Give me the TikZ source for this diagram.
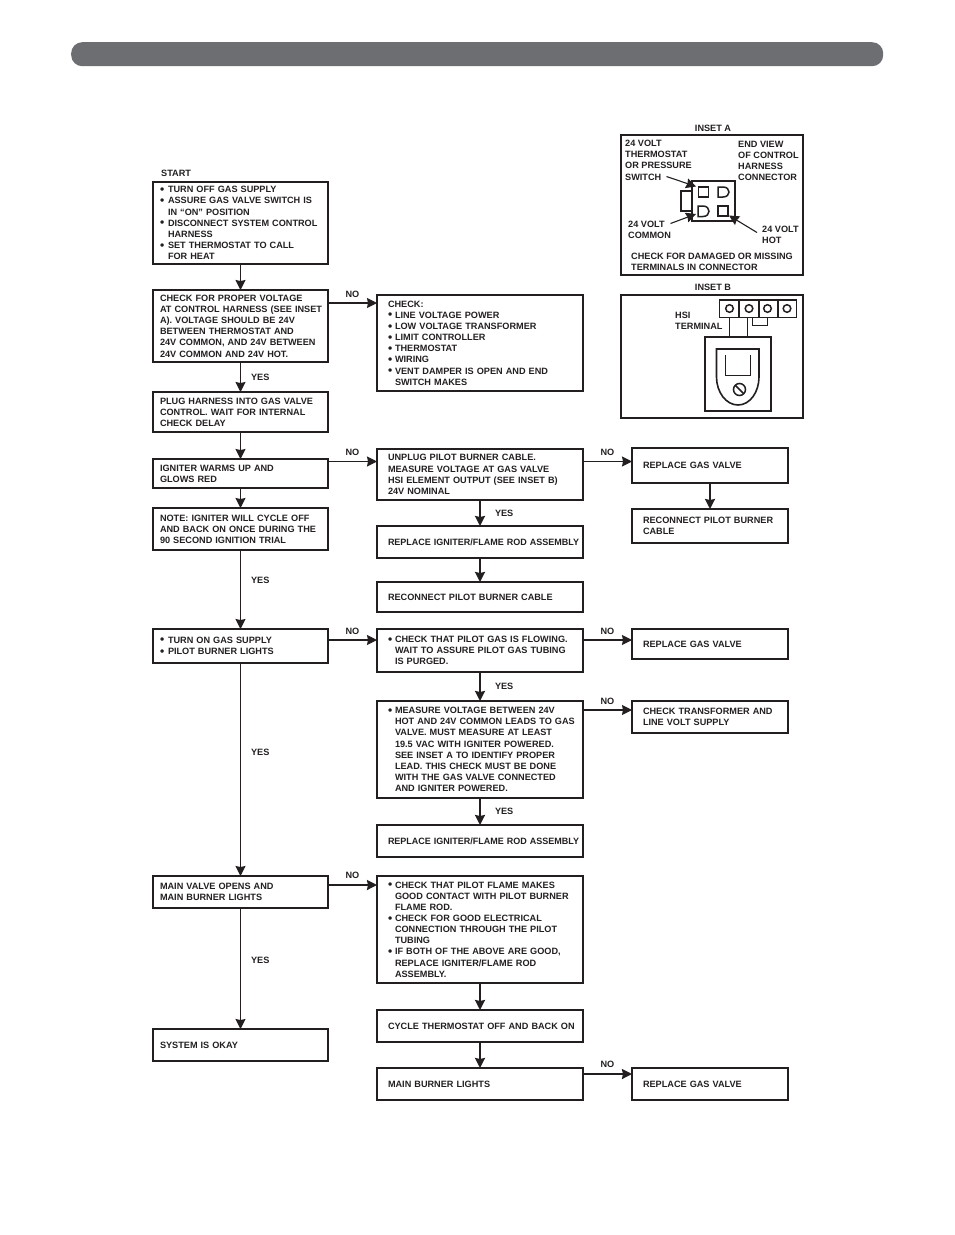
\documentclass[tikz,border=0pt]{standalone}
\usepackage{fontspec}
\setmainfont{Liberation Sans}
\usetikzlibrary{arrows.meta,positioning}
\definecolor{inkblack}{HTML}{231F20}
\definecolor{bargray}{HTML}{6D6E71}
\tikzstyle{flowbox} = [rectangle, draw=inkblack, line width=1.6pt, outer sep=0pt, align=left, font=\bfseries\fontsize{9.15}{11.15}\selectfont, text=inkblack, execute at begin node={\rightskip=-10pt plus 1fil\hyphenpenalty=10000}]
\tikzstyle{leftbox} = [flowbox, minimum width=175pt, text width=161pt, inner xsep=7pt, inner ysep=0pt]
\tikzstyle{midbox} = [flowbox, minimum width=206pt, text width=184pt, inner xsep=11pt, inner ysep=0pt]
\tikzstyle{rightbox} = [flowbox, minimum width=156pt, text width=134pt, inner xsep=11pt, inner ysep=0pt]
\tikzstyle{tag} = [font=\bfseries\fontsize{9.15}{11.15}\selectfont, text=inkblack, inner sep=2pt, align=left]
\tikzstyle{arrow} = [draw=inkblack, line width=1.1pt, -{Stealth[length=10pt,width=10pt,inset=1pt]}]
\tikzstyle{heavyarrow} = [arrow, line width=2pt]
\tikzstyle{part} = [draw=inkblack, line width=1.5pt]
\newcommand{\bul}[1][8pt]{\makebox[#1][l]{\fontsize{12}{11.15}\selectfont\raisebox{-.7pt}{\textbullet}}}
\newcommand{\hang}[1][8pt]{\hspace*{#1}}
\newcommand{\squeezed}[1]{\resizebox{191pt}{\height}{#1}}
\begin{document}
\begin{tikzpicture}[x=1pt,y=-1pt]
   \useasboundingbox (0,0) rectangle (954,1235);
   \node (bar) [rectangle, rounded corners=11pt, fill=bargray, minimum width=812pt, minimum height=24pt, inner sep=0pt, anchor=north west] at (71,42) {};

   % left column
   \node (start) [leftbox, minimum height=82pt, anchor=north west] at (153,182) {\bul TURN OFF GAS SUPPLY\\ \bul ASSURE GAS VALVE SWITCH IS\\ \hang IN ``ON'' POSITION\\ \bul DISCONNECT SYSTEM CONTROL\\ \hang HARNESS\\ \bul SET THERMOSTAT TO CALL\\ \hang FOR HEAT};
   \node (startlabel) [tag, anchor=south west, inner xsep=0pt] at (161,179) {START};
   \node (voltage) [leftbox, minimum height=72pt, below=26pt of start] {CHECK FOR PROPER VOLTAGE\\ AT CONTROL HARNESS (SEE INSET\\ A). VOLTAGE SHOULD BE 24V\\ BETWEEN THERMOSTAT AND\\ 24V COMMON, AND 24V BETWEEN\\ 24V COMMON AND 24V HOT.};
   \node (plug) [leftbox, minimum height=40pt, below=30pt of voltage] {PLUG HARNESS INTO GAS VALVE\\ CONTROL. WAIT FOR INTERNAL\\ CHECK DELAY};
   \node (igniter) [leftbox, minimum height=29pt, below=27pt of plug] {IGNITER WARMS UP AND\\ GLOWS RED};
   \node (note) [leftbox, minimum height=42pt, below=20pt of igniter] {NOTE: IGNITER WILL CYCLE OFF\\ AND BACK ON ONCE DURING THE\\ 90 SECOND IGNITION TRIAL};
   \node (gason) [leftbox, minimum height=34pt, below=79pt of note] {\bul TURN ON GAS SUPPLY\\ \bul PILOT BURNER LIGHTS};
   \node (mainvalve) [leftbox, minimum height=32pt, below=213pt of gason] {MAIN VALVE OPENS AND\\ MAIN BURNER LIGHTS};
   \node (okay) [leftbox, minimum height=32pt, below=121pt of mainvalve] {SYSTEM IS OKAY};

   % middle column
   \node (checklist) [midbox, minimum height=96pt, anchor=north west] at (377,295) {CHECK:\\ \bul[7pt]LINE VOLTAGE POWER\\ \bul[7pt]LOW VOLTAGE TRANSFORMER\\ \bul[7pt]LIMIT CONTROLLER\\ \bul[7pt]THERMOSTAT\\ \bul[7pt]WIRING\\ \bul[7pt]VENT DAMPER IS OPEN AND END\\ \hang[7pt]SWITCH MAKES};
   \node (unplug) [midbox, minimum height=51pt, below=58pt of checklist] {UNPLUG PILOT BURNER CABLE.\\ MEASURE VOLTAGE AT GAS VALVE\\ HSI ELEMENT OUTPUT (SEE INSET B)\\ 24V NOMINAL};
   \node (replaceone) [midbox, minimum height=32pt, below=26pt of unplug] {\squeezed{REPLACE IGNITER/FLAME ROD ASSEMBLY}};
   \node (reconnectone) [midbox, minimum height=30pt, below=24pt of replaceone] {RECONNECT PILOT BURNER CABLE};
   \node (gasflow) [midbox, minimum height=43pt, below=17pt of reconnectone] {\bul[7pt]CHECK THAT PILOT GAS IS FLOWING.\\ \hang[7pt]WAIT TO ASSURE PILOT GAS TUBING\\ \hang[7pt]IS PURGED.};
   \node (measure) [midbox, minimum height=97pt, below=29pt of gasflow] {\bul[7pt]MEASURE VOLTAGE BETWEEN 24V\\ \hang[7pt]HOT AND 24V COMMON LEADS TO GAS\\ \hang[7pt]VALVE. MUST MEASURE AT LEAST\\ \hang[7pt]19.5 VAC WITH IGNITER POWERED.\\ \hang[7pt]SEE INSET A TO IDENTIFY PROPER\\ \hang[7pt]LEAD. THIS CHECK MUST BE DONE\\ \hang[7pt]WITH THE GAS VALVE CONNECTED\\ \hang[7pt]AND IGNITER POWERED.};
   \node (replacetwo) [midbox, minimum height=32pt, below=27pt of measure] {\squeezed{REPLACE IGNITER/FLAME ROD ASSEMBLY}};
   \node (flame) [midbox, minimum height=107pt, below=19pt of replacetwo] {\bul[7pt]CHECK THAT PILOT FLAME MAKES\\ \hang[7pt]GOOD CONTACT WITH PILOT BURNER\\ \hang[7pt]FLAME ROD.\\ \bul[7pt]CHECK FOR GOOD ELECTRICAL\\ \hang[7pt]CONNECTION THROUGH THE PILOT\\ \hang[7pt]TUBING\\ \bul[7pt]IF BOTH OF THE ABOVE ARE GOOD,\\ \hang[7pt]REPLACE IGNITER/FLAME ROD\\ \hang[7pt]ASSEMBLY.};
   \node (cycle) [midbox, minimum height=32pt, below=27pt of flame] {CYCLE THERMOSTAT OFF AND BACK ON};
   \node (burner) [midbox, minimum height=32pt, below=26pt of cycle] {MAIN BURNER LIGHTS};

   % right column
   \node (valveone) [rightbox, minimum height=35pt, anchor=north west] at (632,448) {REPLACE GAS VALVE};
   \node (reconnecttwo) [rightbox, minimum height=34pt, below=26pt of valveone] {RECONNECT PILOT BURNER\\ CABLE};
   \node (valvetwo) [rightbox, minimum height=30pt, anchor=north west] at (632,629) {REPLACE GAS VALVE};
   \node (transformer) [rightbox, minimum height=32pt, below=42pt of valvetwo] {CHECK TRANSFORMER AND\\ LINE VOLT SUPPLY};
   \node (valvethree) [rightbox, minimum height=32pt, anchor=north west] at (632,1068) {REPLACE GAS VALVE};

   % connectors
   \draw [arrow] (start.south) -- (voltage.north);
   \draw [arrow] (voltage.south) -- node[tag,midway,right=8pt]{YES} (plug.north);
   \draw [arrow] (plug.south) -- (igniter.north);
   \draw [arrow] (igniter.south) -- (note.north);
   \draw [arrow] (note.south) -- node[tag,pos=.38,right=8pt]{YES} (gason.north);
   \draw [arrow] (gason.south) -- node[tag,pos=.42,right=8pt]{YES} (mainvalve.north);
   \draw [arrow] (mainvalve.south) -- node[tag,pos=.43,right=8pt]{YES} (okay.north);
   \draw [heavyarrow] (unplug.south) -- node[tag,midway,right=12pt]{YES} (replaceone.north);
   \draw [heavyarrow] (replaceone.south) -- (reconnectone.north);
   \draw [heavyarrow] (gasflow.south) -- node[tag,midway,right=12pt]{YES} (measure.north);
   \draw [heavyarrow] (measure.south) -- node[tag,midway,right=12pt]{YES} (replacetwo.north);
   \draw [heavyarrow] (flame.south) -- (cycle.north);
   \draw [heavyarrow] (cycle.south) -- (burner.north);
   \draw [heavyarrow] (valveone.south) -- (reconnecttwo.north);
   \draw [arrow] ([yshift=-13pt]voltage.north east) -- node[tag,midway,above=3pt]{NO} ([yshift=-8pt]checklist.north west);
   \draw [arrow] ([yshift=-2.5pt]igniter.north east) -- node[tag,midway,above=3pt]{NO} ([yshift=-12.5pt]unplug.north west);
   \draw [arrow] ([yshift=-12.5pt]unplug.north east) -- node[tag,midway,above=3pt]{NO} ([yshift=-13.5pt]valveone.north west);
   \draw [arrow] ([yshift=-11pt]gason.north east) -- node[tag,midway,above=3pt]{NO} ([yshift=-11pt]gasflow.north west);
   \draw [arrow] ([yshift=-11pt]gasflow.north east) -- node[tag,midway,above=3pt]{NO} ([yshift=-11pt]valvetwo.north west);
   \draw [arrow] ([yshift=-9pt]measure.north east) -- node[tag,midway,above=3pt]{NO} ([yshift=-9pt]transformer.north west);
   \draw [heavyarrow] ([yshift=-9pt]mainvalve.north east) -- node[tag,midway,above=3pt]{NO} ([yshift=-9pt]flame.north west);
   \draw [heavyarrow] ([yshift=-6pt]burner.north east) -- node[tag,midway,above=3pt]{NO} ([yshift=-6pt]valvethree.north west);

   % first inset: connector end view
   \node (insetA) [rectangle, draw=inkblack, line width=1.6pt, outer sep=0pt, minimum width=182pt, minimum height=140pt, anchor=north west] at (621,135) {};
   \node (insetAtitle) [tag] at (713,128) {INSET A};
   \node (switchlabel) [tag, anchor=north west, inner sep=0pt] at (625,140) {24 VOLT\\ THERMOSTAT\\ OR PRESSURE\\ SWITCH};
   \node (endview) [tag, anchor=north west, inner sep=0pt] at (738,141) {END VIEW\\ OF CONTROL\\ HARNESS\\ CONNECTOR};
   \node (commonlabel) [tag, anchor=north west, inner sep=0pt] at (628,221) {24 VOLT\\ COMMON};
   \node (hotlabel) [tag, anchor=north west, inner sep=0pt] at (762,226) {24 VOLT\\ HOT};
   \node (damaged) [tag, anchor=north west, inner sep=0pt] at (631,253) {CHECK FOR DAMAGED OR MISSING\\ TERMINALS IN CONNECTOR};
   \draw [part] (692,181) rectangle (735,221);
   \draw [part] (692,191) -- (681,191) -- (681,211) -- (692,211);
   \draw [part] (698.5,187) rectangle (708.5,197);
   \draw [part] (718,206) rectangle (728,216);
   \draw [part] (718,187) -- (723,187) .. controls (731,187) and (731,197) .. (723,197) -- (718,197) -- cycle;
   \draw [part] (698,206) -- (703,206) .. controls (711,206) and (711,216.5) .. (703,216.5) -- (698,216.5) -- cycle;
   \coordinate (switchtail) at (666.5,176.5);
   \coordinate (switchtip) at (696,186.5);
   \coordinate (commontail) at (670.5,223.5);
   \coordinate (commontip) at (696,214);
   \coordinate (hottail) at (757,232.5);
   \coordinate (hottip) at (729,215.5);
   \draw [arrow] (switchtail) -- (switchtip);
   \draw [arrow] (commontail) -- (commontip);
   \draw [arrow] (hottail) -- (hottip);

   % second inset: terminal strip and gas valve
   \node (insetB) [rectangle, draw=inkblack, line width=1.6pt, outer sep=0pt, minimum width=182pt, minimum height=123pt, anchor=north west] at (621,295) {};
   \node (insetBtitle) [tag] at (713,287) {INSET B};
   \node (hsilabel) [tag, anchor=north west, inner sep=0pt] at (675,312) {HSI\\ TERMINAL};
   \draw [part] (719.5,300) rectangle (796.5,317.5);
   \foreach \x in {739,759,778} \draw [part] (\x,300) -- (\x,317.5);
   \foreach \x in {729.5,749,767.5,787} \draw [part] (\x,308.5) circle (3.8);
   \draw [part, line width=1.2pt] (729.5,317.5) -- (729.5,337);
   \draw [part, line width=1.2pt] (747.5,317.5) -- (747.5,337);
   \draw [part, line width=1.2pt] (752.5,317.5) -- (752.5,325.5) -- (767.5,325.5) -- (767.5,317.5);
   \draw [part, line width=1.6pt] (705,337) rectangle (771,411);
   \draw [part, line width=1.6pt] (716.5,377) -- (716.5,349) -- (759,349) -- (759,377) .. controls (759,392) and (750,405) .. (738,405) .. controls (726,405) and (716.5,392) .. (716.5,377);
   \draw [part, line width=.7pt] (725,355) -- (725,375) -- (750.5,375) -- (750.5,355);
   \draw [part] (739.5,389.5) circle (6);
   \draw [part] (735.5,385.5) -- (743.5,393.5);
\end{tikzpicture}
\end{document}
